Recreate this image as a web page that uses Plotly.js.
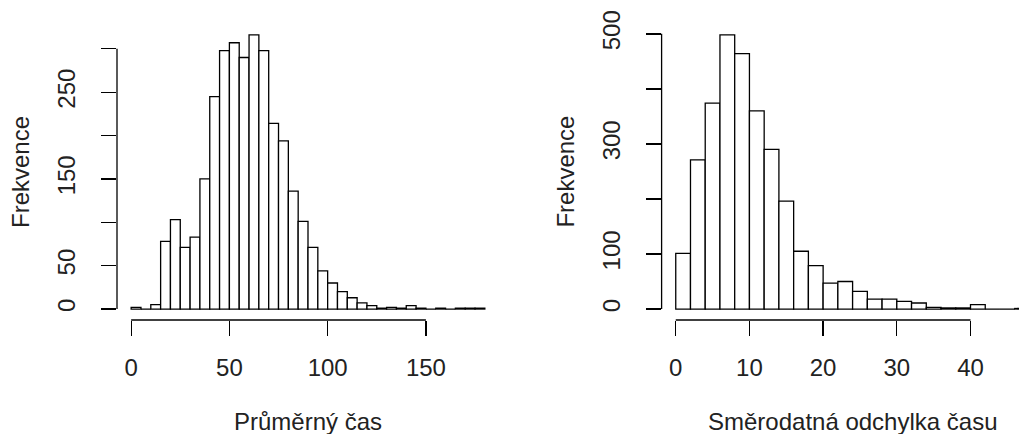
<!DOCTYPE html>
<html>
<head>
<meta charset="utf-8">
<script src="https://cdn.plot.ly/plotly-3.0.1.min.js"></script>
<style>html,body{margin:0;padding:0;background:#fff;overflow:hidden}</style>
</head>
<body>
<div id="chart" style="width:1019px;height:435px"></div>
<script>
// ---- data ----
const leftBinStart = 0;
const leftBinWidth = 5;
const leftCounts = [2, 0, 5, 78, 103, 71, 83, 150, 245, 298, 307, 290, 316, 298, 214, 194, 136, 101, 71, 44, 30, 20, 13, 7, 4, 1, 2, 1, 4, 1, 0, 1, 0, 1, 1, 1];
const leftXTicks = [0, 50, 100, 150];
const leftYTicks = [0, 50, 100, 150, 200, 250, 300];
const leftYTickText = ['0', '50', '', '150', '', '250', ''];
const leftXTitle = 'Průměrný čas';

const rightBinStart = 0;
const rightBinWidth = 2;
const rightCounts = [101, 271, 374, 498, 464, 360, 290, 196, 105, 79, 47, 50, 32, 18, 18, 14, 11, 3, 2, 2, 8, 0, 0, 1];
const rightXTicks = [0, 10, 20, 30, 40];
const rightYTicks = [0, 100, 200, 300, 400, 500];
const rightYTickText = ['0', '100', '', '300', '', '500'];
const rightXTitle = 'Směrodatná odchylka času';

const yTitle = 'Frekvence';

// ---- layout geometry ----
const W = 1019, H = 435;
const plotW = 382;
const leftPx = 117, rightPx = 661.6;
const topPx = 24, bottomPx = 320;
const FONT = 'Liberation Sans, Arial, sans-serif';
const FS = 24;
const LW = 1.3;
const TXT = '#222';

function expand(lim) { const d = (lim[1] - lim[0]) * 0.04; return [lim[0] - d, lim[1] + d]; }
function centers(start, w, counts) { return counts.map((_, i) => start + (i + 0.5) * w); }

const leftXlim = [leftBinStart, leftBinStart + leftCounts.length * leftBinWidth];
const rightXlim = [rightBinStart, rightBinStart + rightCounts.length * rightBinWidth];
const leftXr = expand(leftXlim);
const rightXrFull = expand(rightXlim);
const rightVisible = Math.min(1, (W - rightPx) / plotW);
const rightXr = [rightXrFull[0], rightXrFull[0] + rightVisible * (rightXrFull[1] - rightXrFull[0])];
const leftYr = expand([0, Math.max(...leftCounts)]);
const rightYr = expand([0, Math.max(...rightCounts)]);

const yDom = [1 - bottomPx / H, 1 - topPx / H];
const leftDom = [leftPx / W, (leftPx + plotW) / W];
const rightDom = [rightPx / W, Math.min(1, (rightPx + plotW) / W)];

const barStyle = { color: 'white', line: { color: 'black', width: LW } };
const traces = [
  { type: 'bar', x: centers(leftBinStart, leftBinWidth, leftCounts), y: leftCounts, width: leftBinWidth,
    marker: barStyle, xaxis: 'x', yaxis: 'y', hoverinfo: 'skip' },
  { type: 'bar', x: centers(rightBinStart, rightBinWidth, rightCounts), y: rightCounts, width: rightBinWidth,
    marker: barStyle, xaxis: 'x2', yaxis: 'y2', hoverinfo: 'skip' }
];

function xAxis(dom, range, ticks, anchor) {
  return { domain: dom, range: range, anchor: anchor, tickmode: 'array', tickvals: ticks, ticktext: ticks.map(String),
    ticks: 'outside', ticklen: 15, tickwidth: LW, tickcolor: 'black', showline: false, showgrid: false, zeroline: false,
    tickfont: { family: FONT, size: FS, color: TXT }, ticklabelstandoff: 11, fixedrange: true };
}
function yAxis(dom, range, ticks, text, anchor) {
  return { domain: dom, range: range, anchor: anchor, tickmode: 'array', tickvals: ticks, ticktext: text,
    ticks: 'outside', ticklen: 15, tickwidth: LW, tickcolor: 'black', showline: false, showgrid: false, zeroline: false,
    tickangle: -90, tickfont: { family: FONT, size: FS, color: TXT }, ticklabelstandoff: 16, fixedrange: true };
}

const lineStyle = { color: 'black', width: LW };
const shapes = [
  { type: 'line', xref: 'x', yref: 'paper', x0: leftXTicks[0], x1: leftXTicks[leftXTicks.length - 1], y0: yDom[0], y1: yDom[0], line: lineStyle },
  { type: 'line', xref: 'paper', yref: 'y', x0: leftDom[0], x1: leftDom[0], y0: leftYTicks[0], y1: leftYTicks[leftYTicks.length - 1], line: lineStyle },
  { type: 'line', xref: 'x2', yref: 'paper', x0: rightXTicks[0], x1: rightXTicks[rightXTicks.length - 1], y0: yDom[0], y1: yDom[0], line: lineStyle },
  { type: 'line', xref: 'paper', yref: 'y2', x0: rightDom[0], x1: rightDom[0], y0: rightYTicks[0], y1: rightYTicks[rightYTicks.length - 1], line: lineStyle }
];

const titleFont = { family: FONT, size: FS, color: TXT };
const titleY = 1 - 421 / H;
const annotations = [
  { text: leftXTitle, xref: 'x', yref: 'paper', x: (leftXlim[0] + leftXlim[1]) / 2, y: titleY, xanchor: 'center', yanchor: 'middle', height: 26, valign: 'middle', showarrow: false, font: titleFont },
  { text: rightXTitle, xref: 'x2', yref: 'paper', x: (rightXlim[0] + rightXlim[1]) / 2, y: titleY, xanchor: 'center', yanchor: 'middle', height: 26, valign: 'middle', showarrow: false, font: titleFont },
  { text: yTitle, xref: 'x domain', yref: 'y domain', x: 0, y: 0.5, xshift: -97, textangle: -90, xanchor: 'center', yanchor: 'middle', showarrow: false, font: titleFont },
  { text: yTitle, xref: 'x2 domain', yref: 'y2 domain', x: 0, y: 0.5, xshift: -97, textangle: -90, xanchor: 'center', yanchor: 'middle', showarrow: false, font: titleFont }
];

const layout = {
  width: W, height: H, margin: { l: 0, r: 0, t: 0, b: 0, pad: 0 },
  paper_bgcolor: 'white', plot_bgcolor: 'white', showlegend: false, bargap: 0,
  xaxis: xAxis(leftDom, leftXr, leftXTicks, 'y'),
  yaxis: yAxis(yDom, leftYr, leftYTicks, leftYTickText, 'x'),
  xaxis2: xAxis(rightDom, rightXr, rightXTicks, 'y2'),
  yaxis2: yAxis(yDom, rightYr, rightYTicks, rightYTickText, 'x2'),
  shapes: shapes, annotations: annotations
};

Plotly.newPlot('chart', traces, layout, { displayModeBar: false, staticPlot: true });
</script>
</body>
</html>
